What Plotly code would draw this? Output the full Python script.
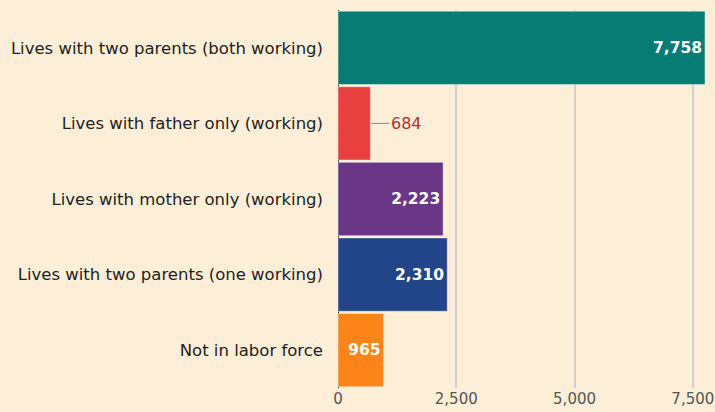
import plotly.graph_objects as go

categories = [
    "Lives with two parents (both working)",
    "Lives with father only (working)",
    "Lives with mother only (working)",
    "Lives with two parents (one working)",
    "Not in labor force",
]
values = [7758, 684, 2223, 2310, 965]
colors = ["#077c74", "#e8403e", "#6a3787", "#22458a", "#fd8418"]
tick_vals = [0, 2500, 5000, 7500]
tick_text = ["0", "2,500", "5,000", "7,500"]

FONT = "DejaVu Sans, Liberation Sans, Arial, sans-serif"

labels = [f"{v:,}" for v in values]
inside_text = [l if v > 900 else "" for v, l in zip(values, labels)]

fig = go.Figure()
fig.add_trace(go.Bar(
    x=values, y=categories, orientation="h",
    marker=dict(color=colors, line=dict(color="rgba(255,255,255,0.45)", width=1)),
    text=inside_text, textposition="inside", insidetextanchor="end",
    textfont=dict(color="white", size=15.5, family=FONT),
    texttemplate="<b>%{text}</b>",
    constraintext="none",
    cliponaxis=False,
    hoverinfo="skip",
))

for v, c, l in zip(values, categories, labels):
    if v <= 900:
        fig.add_annotation(
            x=v, y=c, text=l, showarrow=True, arrowhead=0, arrowwidth=1,
            arrowcolor="#888888", ax=36, ay=0, standoff=1,
            font=dict(color="#b5302f", size=16, family=FONT),
        )

fig.update_layout(
    width=715, height=412,
    paper_bgcolor="#fdeed7", plot_bgcolor="#fdeed7",
    margin=dict(l=338, r=8, t=10, b=24),
    bargap=0.03,
    showlegend=False,
    font=dict(family=FONT, size=16, color="#333333"),
    xaxis=dict(
        range=[0, 7800], tickvals=tick_vals, ticktext=tick_text,
        showgrid=True, gridcolor="#cfcfcf", gridwidth=1.5,
        zeroline=True, zerolinecolor="#333333", zerolinewidth=1,
        ticks="",
        tickfont=dict(size=15, color="#555555", family=FONT),
        fixedrange=True, automargin=False,
    ),
    yaxis=dict(
        autorange="reversed", showgrid=False, ticks="",
        tickfont=dict(size=16.5, color="#222222", family=FONT),
        ticklabelstandoff=14,
        fixedrange=True, automargin=False,
    ),
)

fig.write_html(
    "out.html",
    config={"displayModeBar": False},
    post_script="document.body.style.margin='0';document.body.style.padding='0';",
)
